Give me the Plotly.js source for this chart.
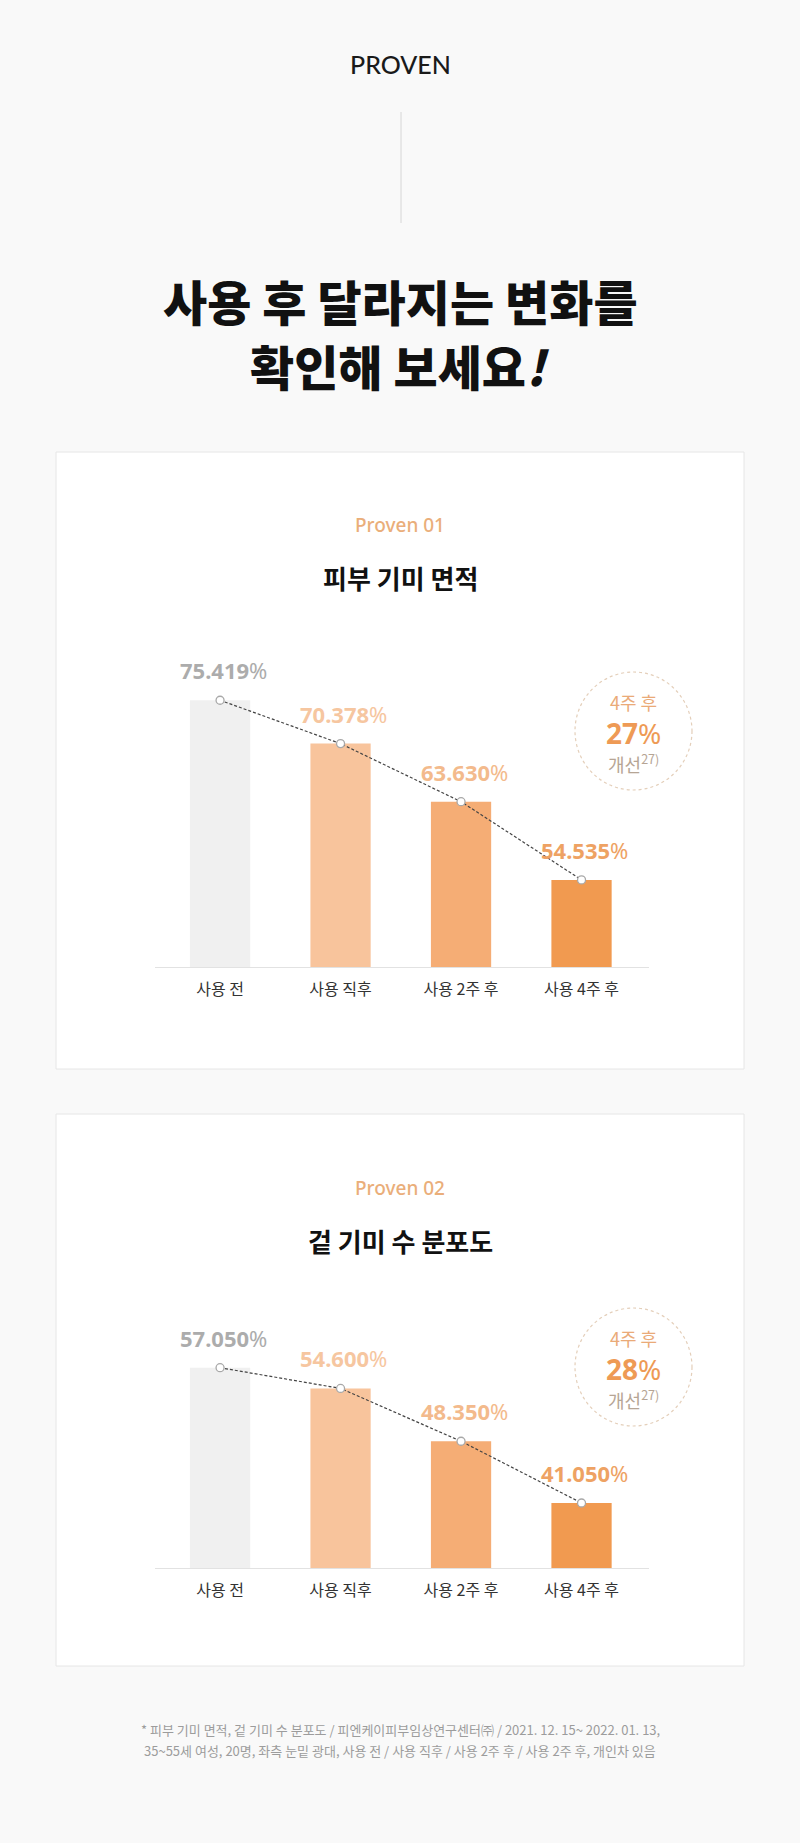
<!DOCTYPE html>
<html>
<head>
<meta charset="utf-8">
<script src="https://cdn.plot.ly/plotly-3.0.1.min.js"></script>
<style>
  html, body { margin: 0; padding: 0; background: #f9f9f9; }
  #page { width: 800px; height: 1843px; }
</style>
</head>
<body>
<div id="page"></div>
<script>
// chart data
var categories = ['사용 전', '사용 직후', '사용 2주 후', '사용 4주 후'];
var spotArea = [75.419, 70.378, 63.630, 54.535];
var spotCount = [57.050, 54.600, 48.350, 41.050];
var improvement = [27, 28];
var chartTitles = ['피부 기미 면적', '겉 기미 수 분포도'];
var chartTags = ['Proven 01', 'Proven 02'];

var barColors = ['#f0f0f0', '#f8c49c', '#f5ad75', '#f19a50'];
var labelColors = ['#acacac', '#f6c6a0', '#f3ba8c', '#eea263'];

var W = 800, H = 1843;
var KR = '"Noto Sans CJK KR", "Noto Sans", sans-serif';
var LAT = 'Lato, "Noto Sans", sans-serif';

function px(x) { return x / W; }
function py(y) { return 1 - y / H; }

// centred text placed on the page in pixels
function note(x, y, text, font) {
  return { xref: 'paper', yref: 'paper', x: px(x), y: py(y), xanchor: 'center', yanchor: 'middle',
    text: text, showarrow: false, font: font };
}

var cards = [
  { top: 452, bottom: 1069, tag: 525, title: 577, plotTop: 640, base: 967, floor: 44.41, scale: 8.602, ring: 731 },
  { top: 1114, bottom: 1666, tag: 1188, title: 1240, plotTop: 1290, base: 1568, floor: 33.36, scale: 8.455, ring: 1367 }
];
var series = [spotArea, spotCount];

var data = [];
var annotations = [];
var shapes = [];

shapes.push({ type: 'line', xref: 'paper', yref: 'paper', x0: px(401), x1: px(401), y0: py(112), y1: py(223),
  line: { color: '#d6d6d6', width: 1 } });

annotations.push(note(400, 64, 'PROVEN', { family: LAT, size: 25, color: '#1a1a1a', weight: 500 }));
annotations.push(note(400, 300, '사용 후 달라지는 변화를', { family: KR, size: 48, color: '#111', weight: 900 }));
annotations.push(note(400, 365, '확인해 보세요<i>!</i>', { family: KR, size: 48, color: '#111', weight: 900 }));

var layout = {
  width: W, height: H,
  margin: { l: 0, r: 0, t: 0, b: 0 },
  paper_bgcolor: '#f9f9f9',
  plot_bgcolor: 'rgba(0,0,0,0)',
  showlegend: false,
  bargap: 0.5
};

cards.forEach(function(c, k) {
  var vals = series[k];
  var xa = k === 0 ? 'x' : 'x2';
  var ya = k === 0 ? 'y' : 'y2';
  var axKey = k === 0 ? '' : '2';

  shapes.push({ type: 'rect', xref: 'paper', yref: 'paper', layer: 'below',
    x0: px(56), x1: px(744), y0: py(c.bottom), y1: py(c.top),
    fillcolor: '#ffffff', line: { color: '#e6e6e6', width: 1 } });

  annotations.push(note(400, c.tag, chartTags[k], { family: '"Noto Sans", sans-serif', size: 19, color: '#eaae7a', weight: 500 }));
  annotations.push(note(400, c.title, chartTitles[k], { family: KR, size: 26, color: '#111', weight: 700 }));

  data.push({
    type: 'bar', x: categories, y: vals, xaxis: xa, yaxis: ya,
    marker: { color: barColors }, width: 0.5, hoverinfo: 'skip', cliponaxis: false
  });
  data.push({
    type: 'scatter', mode: 'lines+markers', x: categories, y: vals, xaxis: xa, yaxis: ya,
    line: { color: '#444', width: 1.2, dash: '3px,2px' },
    marker: { symbol: 'circle', size: 8, color: '#ffffff', line: { color: '#a8a8a8', width: 1.3 } },
    hoverinfo: 'skip', cliponaxis: false
  });

  vals.forEach(function(v, i) {
    annotations.push({ xref: xa, yref: ya, x: categories[i], y: v, yshift: 30, xshift: 3,
      xanchor: 'center', yanchor: 'middle',
      text: '<b>' + v.toFixed(3) + '</b>%', showarrow: false,
      font: { family: '"Noto Sans", sans-serif', size: 22, color: labelColors[i] } });
  });

  // dashed ring with the 4-week improvement
  shapes.push({ type: 'circle', xref: 'paper', yref: 'paper',
    x0: px(575), x1: px(692), y0: py(c.ring + 59), y1: py(c.ring - 59),
    line: { color: '#e4cfba', width: 1.2, dash: 'dot' } });
  annotations.push(note(633, c.ring - 29, '4주 후', { family: KR, size: 18, color: '#eaaa78' }));
  annotations.push(note(633, c.ring + 2, '<b>' + improvement[k] + '</b>%', { family: '"Noto Sans", sans-serif', size: 28, color: '#ee9a55' }));
  annotations.push(note(633, c.ring + 32, '개선<sup>27)</sup>', { family: KR, size: 18, color: '#b6a595' }));

  layout['xaxis' + axKey] = {
    domain: [px(155), px(649)], range: [-0.54, 3.56], anchor: ya,
    showline: true, linecolor: '#e2e2e2', linewidth: 1.2, showgrid: false, zeroline: false,
    ticks: '', ticklabelstandoff: 8, tickfont: { family: KR, size: 16, color: '#333' }, fixedrange: true
  };
  layout['yaxis' + axKey] = {
    domain: [py(c.base), py(c.plotTop)],
    range: [c.floor, c.floor + (c.base - c.plotTop) / c.scale], anchor: xa,
    visible: false, showgrid: false, zeroline: false, fixedrange: true
  };
});

annotations.push(note(400, 1729, '* 피부 기미 면적, 겉 기미 수 분포도 / 피엔케이피부임상연구센터㈜ / 2021. 12. 15~ 2022. 01. 13,',
  { family: KR, size: 13, color: '#9c9c9c' }));
annotations.push(note(400, 1750, '35~55세 여성, 20명, 좌측 눈밑 광대, 사용 전 / 사용 직후 / 사용 2주 후 / 사용 2주 후, 개인차 있음',
  { family: KR, size: 13, color: '#9c9c9c' }));

layout.shapes = shapes;
layout.annotations = annotations;

Plotly.newPlot('page', data, layout, { staticPlot: true, displayModeBar: false });
</script>
</body>
</html>
